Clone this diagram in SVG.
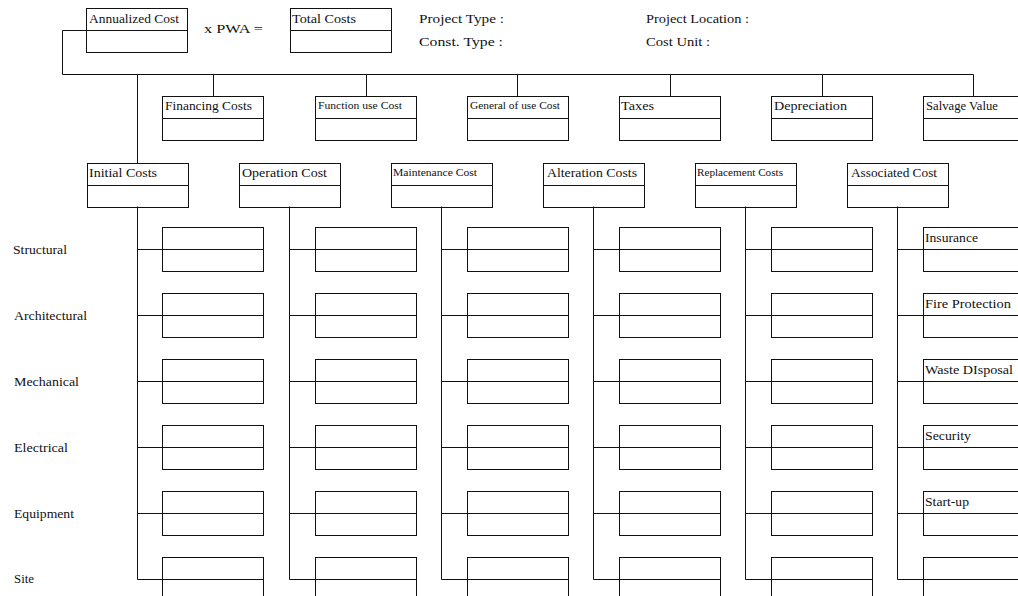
<svg xmlns="http://www.w3.org/2000/svg" width="1018" height="596" viewBox="0 0 1018 596">
<style>
.bx{fill:none;stroke:#111;stroke-width:1}
.ln{fill:none;stroke:#111;stroke-width:1}
text{font-family:"Liberation Serif","Times New Roman",serif;font-size:13px;fill:#111}
.sm{font-size:11px}
</style>
<defs>
<g id="sb"><rect class="bx" x="0.5" y="0.5" width="101" height="44"/><line class="ln" x1="0.5" y1="22.5" x2="101.5" y2="22.5"/></g>
</defs>
<rect width="1018" height="596" fill="#fff"/>

<g id="connectors">
<path class="ln" d="M86.5,30.5 H62.5 V74.5 H973.5"/>
<path class="ln" d="M213.5,74.5 V96.5 M366.5,74.5 V96.5 M517.5,74.5 V96.5 M670.5,74.5 V96.5 M822.5,74.5 V96.5 M973.5,74.5 V96.5"/>
<path class="ln" d="M137.5,74.5 V163.5"/>
<path class="ln" d="M137.5,206.5 V579.5 H162.5 M137.5,249.5 H162.5 M137.5,315.5 H162.5 M137.5,381.5 H162.5 M137.5,447.5 H162.5 M137.5,513.5 H162.5"/>
<path class="ln" d="M289.5,206.5 V579.5 H315.5 M289.5,249.5 H315.5 M289.5,315.5 H315.5 M289.5,381.5 H315.5 M289.5,447.5 H315.5 M289.5,513.5 H315.5"/>
<path class="ln" d="M441.5,206.5 V579.5 H467.5 M441.5,249.5 H467.5 M441.5,315.5 H467.5 M441.5,381.5 H467.5 M441.5,447.5 H467.5 M441.5,513.5 H467.5"/>
<path class="ln" d="M593.5,206.5 V579.5 H619.5 M593.5,249.5 H619.5 M593.5,315.5 H619.5 M593.5,381.5 H619.5 M593.5,447.5 H619.5 M593.5,513.5 H619.5"/>
<path class="ln" d="M745.5,206.5 V579.5 H771.5 M745.5,249.5 H771.5 M745.5,315.5 H771.5 M745.5,381.5 H771.5 M745.5,447.5 H771.5 M745.5,513.5 H771.5"/>
<path class="ln" d="M897.5,206.5 V579.5 H923.5 M897.5,249.5 H923.5 M897.5,315.5 H923.5 M897.5,381.5 H923.5 M897.5,447.5 H923.5 M897.5,513.5 H923.5"/>
</g>

<g id="annualized-cost"><use href="#sb" x="86" y="8"/><text x="89" y="23" textLength="90" lengthAdjust="spacingAndGlyphs">Annualized Cost</text></g>
<g id="pwa"><text x="204" y="33" textLength="59" lengthAdjust="spacingAndGlyphs">x  PWA  =</text></g>
<g id="total-costs"><use href="#sb" x="290" y="8"/><text x="292" y="23" textLength="64" lengthAdjust="spacingAndGlyphs">Total Costs</text></g>
<g id="project-info">
<text x="419" y="23" textLength="85" lengthAdjust="spacingAndGlyphs">Project Type  :</text>
<text x="419" y="46" textLength="84" lengthAdjust="spacingAndGlyphs">Const. Type   :</text>
<text x="646" y="23" textLength="103" lengthAdjust="spacingAndGlyphs">Project Location :</text>
<text x="646" y="46" textLength="64" lengthAdjust="spacingAndGlyphs">Cost Unit :</text>
</g>

<g id="financing-costs"><use href="#sb" x="162" y="96"/><text x="165" y="110" textLength="87" lengthAdjust="spacingAndGlyphs">Financing Costs</text></g>
<g id="function-use-cost"><use href="#sb" x="315" y="96"/><text class="sm" x="318" y="109" textLength="84" lengthAdjust="spacingAndGlyphs">Function use Cost</text></g>
<g id="general-use-cost"><use href="#sb" x="467" y="96"/><text class="sm" x="470" y="109" textLength="90" lengthAdjust="spacingAndGlyphs">General of use Cost</text></g>
<g id="taxes"><use href="#sb" x="619" y="96"/><text x="621" y="110" textLength="33" lengthAdjust="spacingAndGlyphs">Taxes</text></g>
<g id="depreciation"><use href="#sb" x="771" y="96"/><text x="774" y="110" textLength="73" lengthAdjust="spacingAndGlyphs">Depreciation</text></g>
<g id="salvage-value"><use href="#sb" x="923" y="96"/><text x="926" y="110" textLength="72" lengthAdjust="spacingAndGlyphs">Salvage Value</text></g>

<g id="initial-costs"><use href="#sb" x="87" y="163"/><text x="89" y="177" textLength="68" lengthAdjust="spacingAndGlyphs">Initial Costs</text></g>
<g id="operation-cost"><use href="#sb" x="239" y="163"/><text x="242" y="177" textLength="85" lengthAdjust="spacingAndGlyphs">Operation Cost</text></g>
<g id="maintenance-cost"><use href="#sb" x="391" y="163"/><text class="sm" x="393" y="176" textLength="84" lengthAdjust="spacingAndGlyphs">Maintenance Cost</text></g>
<g id="alteration-costs"><use href="#sb" x="543" y="163"/><text x="547" y="177" textLength="90" lengthAdjust="spacingAndGlyphs">Alteration Costs</text></g>
<g id="replacement-costs"><use href="#sb" x="695" y="163"/><text class="sm" x="697" y="176" textLength="86" lengthAdjust="spacingAndGlyphs">Replacement Costs</text></g>
<g id="associated-cost"><use href="#sb" x="847" y="163"/><text x="851" y="177" textLength="86" lengthAdjust="spacingAndGlyphs">Associated Cost</text></g>

<g id="row-labels">
<text x="13" y="254" textLength="54" lengthAdjust="spacingAndGlyphs">Structural</text>
<text x="14" y="320" textLength="73" lengthAdjust="spacingAndGlyphs">Architectural</text>
<text x="14" y="386" textLength="65" lengthAdjust="spacingAndGlyphs">Mechanical</text>
<text x="14" y="452" textLength="54" lengthAdjust="spacingAndGlyphs">Electrical</text>
<text x="14" y="518" textLength="60" lengthAdjust="spacingAndGlyphs">Equipment</text>
<text x="14" y="583" textLength="20" lengthAdjust="spacingAndGlyphs">Site</text>
</g>

<g id="initial-sub"><use href="#sb" x="162" y="227"/><use href="#sb" x="162" y="293"/><use href="#sb" x="162" y="359"/><use href="#sb" x="162" y="425"/><use href="#sb" x="162" y="491"/><use href="#sb" x="162" y="557"/></g>
<g id="operation-sub"><use href="#sb" x="315" y="227"/><use href="#sb" x="315" y="293"/><use href="#sb" x="315" y="359"/><use href="#sb" x="315" y="425"/><use href="#sb" x="315" y="491"/><use href="#sb" x="315" y="557"/></g>
<g id="maintenance-sub"><use href="#sb" x="467" y="227"/><use href="#sb" x="467" y="293"/><use href="#sb" x="467" y="359"/><use href="#sb" x="467" y="425"/><use href="#sb" x="467" y="491"/><use href="#sb" x="467" y="557"/></g>
<g id="alteration-sub"><use href="#sb" x="619" y="227"/><use href="#sb" x="619" y="293"/><use href="#sb" x="619" y="359"/><use href="#sb" x="619" y="425"/><use href="#sb" x="619" y="491"/><use href="#sb" x="619" y="557"/></g>
<g id="replacement-sub"><use href="#sb" x="771" y="227"/><use href="#sb" x="771" y="293"/><use href="#sb" x="771" y="359"/><use href="#sb" x="771" y="425"/><use href="#sb" x="771" y="491"/><use href="#sb" x="771" y="557"/></g>

<g id="insurance"><use href="#sb" x="923" y="227"/><text x="925" y="242" textLength="53" lengthAdjust="spacingAndGlyphs">Insurance</text></g>
<g id="fire-protection"><use href="#sb" x="923" y="293"/><text x="925" y="308" textLength="86" lengthAdjust="spacingAndGlyphs">Fire Protection</text></g>
<g id="waste-disposal"><use href="#sb" x="923" y="359"/><text x="925" y="374" textLength="88" lengthAdjust="spacingAndGlyphs">Waste DIsposal</text></g>
<g id="security"><use href="#sb" x="923" y="425"/><text x="925" y="440" textLength="46" lengthAdjust="spacingAndGlyphs">Security</text></g>
<g id="start-up"><use href="#sb" x="923" y="491"/><text x="925" y="506" textLength="44" lengthAdjust="spacingAndGlyphs">Start-up</text></g>
<g id="associated-empty"><use href="#sb" x="923" y="557"/></g>
</svg>
